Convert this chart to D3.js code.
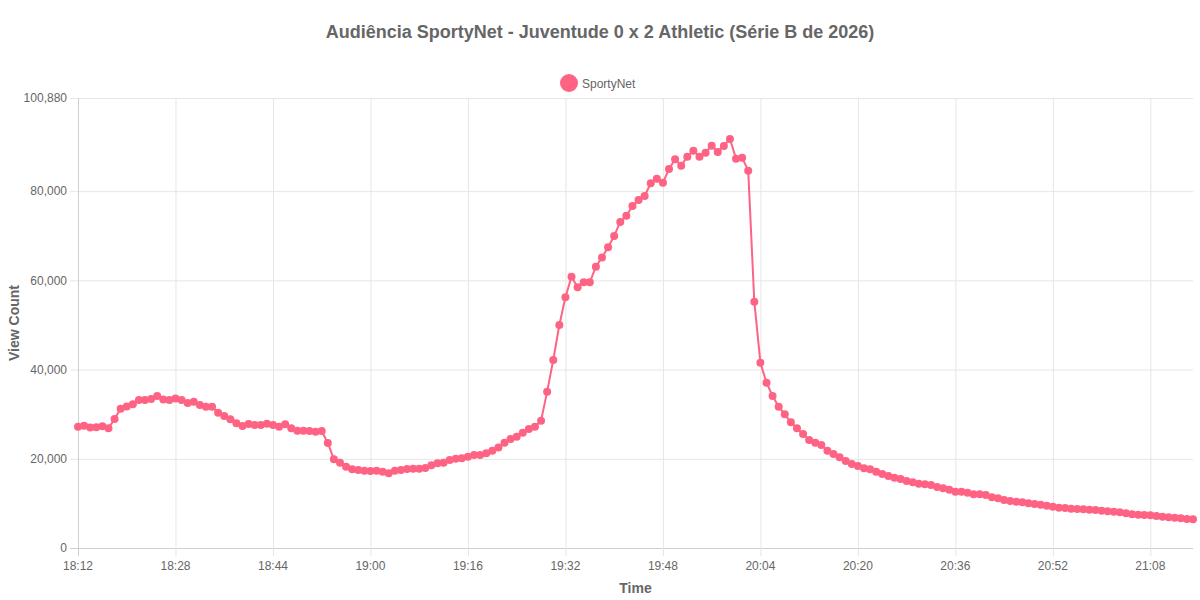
<!DOCTYPE html>
<html>
<head>
<meta charset="utf-8">
<script src="https://cdn.jsdelivr.net/npm/d3@7"></script>
<style>
  body { margin: 0; background: #fff; }
  svg text { font-family: "Liberation Sans", Arial, Helvetica, sans-serif; fill: #666; }
</style>
</head>
<body>
<div id="vis"></div>
<script>
// chart data
var title = "Audiência SportyNet - Juventude 0 x 2 Athletic (Série B de 2026)";
var seriesName = "SportyNet";
var startTime = "18:12";
var viewCounts = [
  27200, 27400, 27000, 27050, 27300, 26850, 28900, 31200, 31700, 32200,
  33200, 33200, 33400, 34100, 33300, 33200, 33500, 33200, 32500, 32800,
  32060, 31680, 31680, 30330, 29600, 28850, 27950, 27350, 27800, 27580,
  27580, 27870, 27580, 27200, 27720, 26840, 26300, 26300, 26230, 26080,
  26230, 23550, 19890, 19130, 18230, 17640, 17490, 17330, 17260, 17330,
  17110, 16740, 17330, 17490, 17710, 17790, 17790, 17940, 18540, 18990,
  19130, 19730, 20020, 20100, 20470, 20850, 20850, 21230, 21800, 22550,
  23600, 24440, 24960, 25850, 26680, 27200, 28550, 35050, 42150, 50000,
  56200, 60830, 58450, 59570, 59570, 63070, 65150, 67420, 69950, 73090,
  74500, 76680, 78020, 78920, 81770, 82800, 81900, 84970, 87140, 85710,
  87730, 89080, 87730, 88630, 90200, 88780, 90130, 91700, 87280, 87500,
  84590, 55220, 41550, 37060, 34080, 31680, 29970, 28180, 26840, 25560,
  24210, 23610, 23090, 21820, 21080, 20330, 19500, 18830, 18380, 17860,
  17640, 17110, 16590, 16140, 15760, 15450, 15020, 14730, 14420, 14280,
  14120, 13680, 13380, 13070, 12620, 12620, 12400, 12040, 12040, 11880,
  11370, 11140, 10760, 10540, 10380, 10240, 10020, 9860, 9710, 9480,
  9260, 9040, 8970, 8810, 8740, 8670, 8590, 8520, 8360, 8220,
  8140, 8000, 7780, 7560, 7470, 7400, 7330, 7170, 7020, 6880,
  6800, 6660, 6500, 6430
];
var xTickLabels = ["18:12", "18:28", "18:44", "19:00", "19:16", "19:32",
  "19:48", "20:04", "20:20", "20:36", "20:52", "21:08"];
var yTickValues = [0, 20000, 40000, 60000, 80000, 100880];
var yMax = 100880;

// one label per minute, starting at startTime
var parseTime = d3.timeParse("%H:%M");
var fmtTime = d3.timeFormat("%H:%M");
var t0 = parseTime(startTime);
var times = viewCounts.map(function(v, i) {
  return fmtTime(d3.timeMinute.offset(t0, i));
});
var data = viewCounts.map(function(v, i) {
  return { time: times[i], value: v };
});

var W = 1200, H = 600;
var margin = { top: 98, right: 7, bottom: 52, left: 78 };
var width = W - margin.left - margin.right,
    height = H - margin.top - margin.bottom;
var color = "#ff6384";

var svg = d3.select("#vis").append("svg")
  .attr("width", W)
  .attr("height", H);

var g = svg.append("g")
  .attr("transform", "translate(" + margin.left + "," + margin.top + ")");

var x = d3.scalePoint().domain(times).range([0, width]);
var y = d3.scaleLinear().domain([0, yMax]).range([height, 0]);

// gridlines
g.append("g").selectAll("line")
  .data(yTickValues)
  .join("line")
  .attr("x1", -8).attr("x2", width)
  .attr("y1", function(d) { return y(d) + 0.5; })
  .attr("y2", function(d) { return y(d) + 0.5; })
  .attr("stroke", function(d) { return d === 0 ? "#cfcfcf" : "#e6e6e6"; })
  .attr("stroke-width", 1);

g.append("g").selectAll("line")
  .data(xTickLabels)
  .join("line")
  .attr("x1", function(d) { return x(d) + 0.5; })
  .attr("x2", function(d) { return x(d) + 0.5; })
  .attr("y1", 0).attr("y2", height + 8)
  .attr("stroke", function(d, i) { return i === 0 ? "#cfcfcf" : "#e6e6e6"; })
  .attr("stroke-width", 1);

// tick labels
g.append("g").selectAll("text")
  .data(yTickValues)
  .join("text")
  .attr("x", -11)
  .attr("y", function(d) { return y(d); })
  .attr("dy", "0.35em")
  .attr("text-anchor", "end")
  .style("font-size", "12px")
  .text(function(d) { return d3.format(",")(d); });

g.append("g").selectAll("text")
  .data(xTickLabels)
  .join("text")
  .attr("x", function(d) { return x(d); })
  .attr("y", height + 22)
  .attr("text-anchor", "middle")
  .style("font-size", "12px")
  .text(function(d) { return d; });

// line + points
g.append("path")
  .datum(data)
  .attr("fill", "none")
  .attr("stroke", color)
  .attr("stroke-width", 2)
  .attr("stroke-linejoin", "round")
  .attr("d", d3.line()
    .x(function(d) { return x(d.time); })
    .y(function(d) { return y(d.value); }));

g.append("g").selectAll("circle")
  .data(data)
  .join("circle")
  .attr("cx", function(d) { return x(d.time); })
  .attr("cy", function(d) { return y(d.value); })
  .attr("r", 4)
  .attr("fill", color);

// title
svg.append("text")
  .attr("x", W / 2)
  .attr("y", 38)
  .attr("text-anchor", "middle")
  .style("font-size", "18px")
  .style("font-weight", "bold")
  .text(title);

// legend
svg.append("circle")
  .attr("cx", 569).attr("cy", 83).attr("r", 9)
  .attr("fill", color);
svg.append("text")
  .attr("x", 582).attr("y", 87.5)
  .style("font-size", "12px")
  .text(seriesName);

// axis titles
svg.append("text")
  .attr("x", margin.left + width / 2)
  .attr("y", 593)
  .attr("text-anchor", "middle")
  .style("font-size", "14px")
  .style("font-weight", "bold")
  .text("Time");

svg.append("text")
  .attr("transform", "translate(19," + (margin.top + height / 2) + ") rotate(-90)")
  .attr("text-anchor", "middle")
  .style("font-size", "14px")
  .style("font-weight", "bold")
  .text("View Count");
</script>
</body>
</html>
